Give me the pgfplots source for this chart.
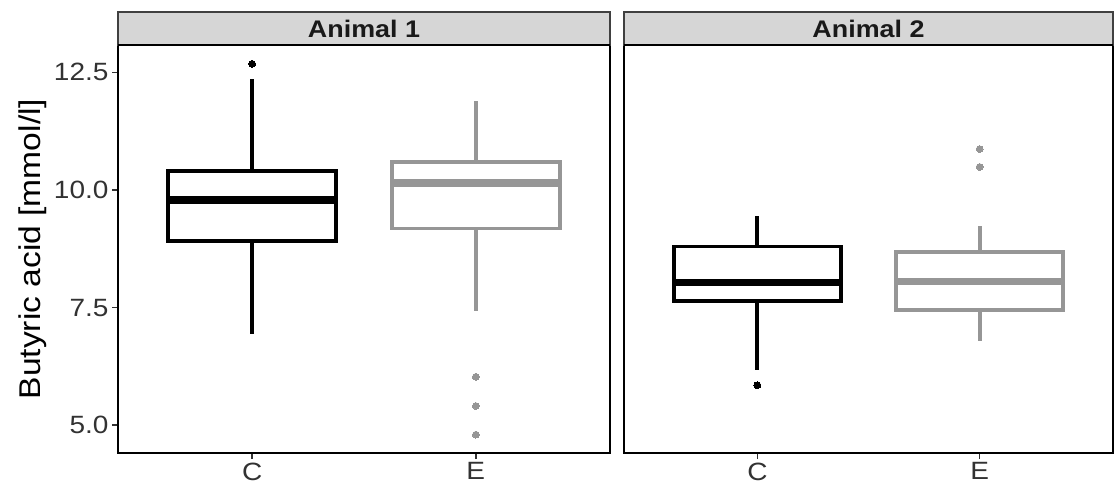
\documentclass[border=0pt]{standalone}
\usepackage{fontspec}
\setmainfont{Liberation Sans}[FakeStretch=1.12]
\usepackage{pgfplots}
\pgfplotsset{compat=1.18}
\definecolor{eg}{RGB}{150,150,150}
\definecolor{stripc}{RGB}{214,214,214}
\definecolor{tickc}{RGB}{50,50,50}

\pgfplotsset{
  panel/.style={
    scale only axis, width=#1, height=408pt,
    ymin=4.41, ymax=13.08, xmin=0.4, xmax=2.6,
    xtick={1,2}, xticklabels={C,E},
    axis line style={line width=2.5pt, black},
    tick style={line width=1.5pt, tickc},
    major tick length=6pt,
    tick align=outside,
    xtick pos=bottom, ytick pos=left,
    clip=false,
    tick label style={font=\fontsize{25}{29}\selectfont, text=tickc},
  },
  ln/.style={line width=3.8pt, mark=none, line join=miter},
  md/.style={line width=7.5pt, mark=none, line cap=butt},
  ol/.style={only marks, mark=*, mark size=3.4pt, mark options={line width=0pt}},
  strip/.style={},
}

\begin{document}
\begin{tikzpicture}
\path[use as bounding box] (0,0) rectangle (1115pt,-485pt);

% ---------------- Animal 1 ----------------
\begin{axis}[panel=492pt, at={(118pt,-453pt)}, anchor=south west,
  ytick={5,7.5,10,12.5}, yticklabels={5.0,7.5,10.0,12.5},
  ylabel={Butyric acid [mmol/l]},
  every axis y label/.style={at={([xshift=-85pt]axis description cs:0,0.5)},
    rotate=90, anchor=center, font=\fontsize{30}{34}\selectfont},
]
% C : whiskers, box, median, outliers
\addplot[ln, black] coordinates {(1,10.41)(1,12.35)};
\addplot[ln, black] coordinates {(1,8.91)(1,6.94)};
\addplot[ln, black, fill=white] coordinates
  {(0.625,8.91)(1.375,8.91)(1.375,10.41)(0.625,10.41)} -- cycle;
\addplot[md, black] coordinates {(0.625,9.79)(1.375,9.79)};
\addplot[ol, black] coordinates {(1,12.68)};
% E
\addplot[ln, eg] coordinates {(2,10.60)(2,11.89)};
\addplot[ln, eg] coordinates {(2,9.18)(2,7.42)};
\addplot[ln, eg, fill=white] coordinates
  {(1.625,9.18)(2.375,9.18)(2.375,10.60)(1.625,10.60)} -- cycle;
\addplot[md, eg] coordinates {(1.625,10.15)(2.375,10.15)};
\addplot[ol, eg] coordinates {(2,6.03)(2,5.41)(2,4.80)};
% strip
\draw[line width=1.5pt, draw=black!75, fill=stripc]
  (rel axis cs:0,1) rectangle ([yshift=33pt]rel axis cs:1,1);
\draw[line width=2.5pt, black] (rel axis cs:0,1) -- (rel axis cs:1,1);
\node[font=\fontsize{24}{28}\selectfont\bfseries, text=black!90]
  at ([yshift=16.5pt]rel axis cs:0.5,1) {Animal 1};
\end{axis}

% ---------------- Animal 2 ----------------
\begin{axis}[panel=489pt, at={(624pt,-453pt)}, anchor=south west,
  ytick=\empty,
]
% C
\addplot[ln, black] coordinates {(1,8.80)(1,9.44)};
\addplot[ln, black] coordinates {(1,7.64)(1,6.18)};
\addplot[ln, black, fill=white] coordinates
  {(0.625,7.64)(1.375,7.64)(1.375,8.80)(0.625,8.80)} -- cycle;
\addplot[md, black] coordinates {(0.625,8.03)(1.375,8.03)};
\addplot[ol, black] coordinates {(1,5.85)};
% E
\addplot[ln, eg] coordinates {(2,8.68)(2,9.24)};
\addplot[ln, eg] coordinates {(2,7.45)(2,6.78)};
\addplot[ln, eg, fill=white] coordinates
  {(1.625,7.45)(2.375,7.45)(2.375,8.68)(1.625,8.68)} -- cycle;
\addplot[md, eg] coordinates {(1.625,8.05)(2.375,8.05)};
\addplot[ol, eg] coordinates {(2,10.87)(2,10.49)};
% strip
\draw[line width=1.5pt, draw=black!75, fill=stripc]
  (rel axis cs:0,1) rectangle ([yshift=33pt]rel axis cs:1,1);
\draw[line width=2.5pt, black] (rel axis cs:0,1) -- (rel axis cs:1,1);
\node[font=\fontsize{24}{28}\selectfont\bfseries, text=black!90]
  at ([yshift=16.5pt]rel axis cs:0.5,1) {Animal 2};
\end{axis}
\end{tikzpicture}
\end{document}
